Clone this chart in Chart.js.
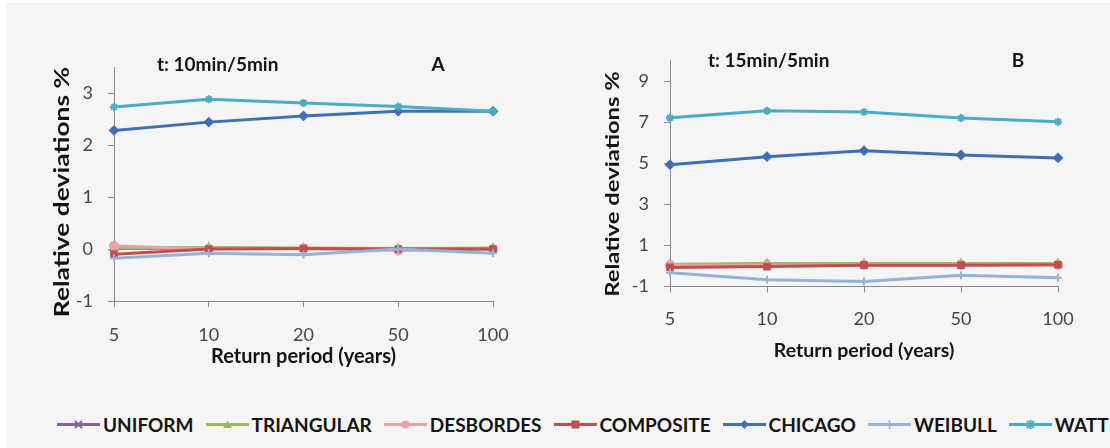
<!DOCTYPE html>
<html>
<head>
<meta charset="utf-8">
<script src="https://cdn.jsdelivr.net/npm/chart.js@4/dist/chart.umd.min.js"></script>
<style>
  html, body { margin: 0; padding: 0; background: #ffffff; }
  #page { position: absolute; left: 6px; top: 3px; width: 1104px; height: 445px; background: #f5f5f5; overflow: hidden; }
  .box { position: absolute; top: 0; height: 390px; }
  #boxA { left: -6px; width: 550px; }
  #boxB { left: 549px; width: 555px; }
  #legend { position: absolute; left: 51px; top: 409px; white-space: nowrap; font-family: Lato, sans-serif; font-weight: bold; font-size: 19px; color: #141414; }
  #legend .item { display: inline-flex; align-items: center; margin-right: 12px; }
  #legend svg { margin-right: 3px; }
</style>
</head>
<body>
<div id="page">
  <div class="box" id="boxA"><canvas id="chartA"></canvas></div>
  <div class="box" id="boxB"><canvas id="chartB"></canvas></div>
  <div id="legend"></div>
</div>
<script>
// return periods (years)
const categories = ['5', '10', '20', '50', '100'];

const seriesNames = ['UNIFORM', 'TRIANGULAR', 'DESBORDES', 'COMPOSITE', 'CHICAGO', 'WEIBULL', 'WATT'];
const seriesColors = ['#8064a2', '#9bbb59', '#e6a3a1', '#c0504d', '#3f6fb5', '#95b3d7', '#4bacc6'];
const seriesMarkers = ['crossRot', 'triangle', 'circle', 'rect', 'rectRot', 'cross', 'star'];

// panel A: t 10min/5min
const uniformA    = [0.01, 0.02, 0.01, 0.00, 0.01];
const triangularA = [0.02, 0.03, 0.02, 0.01, 0.02];
const desbordesA  = [0.06, 0.00, 0.01, -0.03, -0.01];
const compositeA  = [-0.10, 0.00, 0.01, 0.00, 0.00];
const chicagoA    = [2.28, 2.44, 2.56, 2.65, 2.65];
const weibullA    = [-0.18, -0.08, -0.11, 0.00, -0.08];
const wattA       = [2.73, 2.88, 2.81, 2.74, 2.65];

// panel B: t 15min/5min
const uniformB    = [0.05, 0.10, 0.10, 0.10, 0.10];
const triangularB = [0.08, 0.12, 0.12, 0.12, 0.12];
const desbordesB  = [0.05, 0.02, 0.05, 0.05, 0.05];
const compositeB  = [-0.07, -0.03, 0.04, 0.04, 0.06];
const chicagoB    = [4.93, 5.32, 5.61, 5.40, 5.26];
const weibullB    = [-0.33, -0.67, -0.76, -0.45, -0.57];
const wattB       = [7.21, 7.55, 7.49, 7.20, 7.02];

const yTicksA = [-1, 0, 1, 2, 3];
const yTicksB = [-1, 1, 3, 5, 7, 9];

const FONT = 'Lato, sans-serif';

// draws the "t: ..." label, the panel letter and the (stretched) y title
const panelLabels = {
  id: 'panelLabels',
  afterDraw(chart, args, opts) {
    const c = chart.ctx;
    c.save();
    c.fillStyle = '#141414';
    c.font = 'bold 19px ' + FONT;
    c.textBaseline = 'middle';
    opts.items.forEach(function (it) {
      c.textAlign = it.align;
      c.fillText(it.text, it.x, it.y);
    });
    const yt = opts.yTitle;
    c.translate(yt.x, yt.y);
    c.rotate(-Math.PI / 2);
    c.scale(yt.stretch, 1);
    c.font = 'bold ' + yt.size + 'px ' + FONT;
    c.textAlign = 'center';
    c.fillText(yt.text, 0, 0);
    c.restore();
  }
};

function makeDatasets(values) {
  return values.map(function (v, i) {
    return {
      label: seriesNames[i],
      data: v,
      borderColor: seriesColors[i],
      backgroundColor: seriesColors[i],
      pointStyle: seriesMarkers[i],
      pointRadius: 4,
      pointBorderWidth: 2,
      borderWidth: 3,
      tension: 0,
      fill: false,
      order: values.length - i
    };
  });
}

function makeChart(id, values, yMin, yMax, yTicks, opt) {
  return new Chart(document.getElementById(id), {
    type: 'line',
    data: { labels: categories, datasets: makeDatasets(values) },
    options: {
      responsive: true,
      maintainAspectRatio: false,
      animation: false,
      layout: { padding: opt.padding },
      plugins: {
        legend: { display: false },
        tooltip: { enabled: false },
        panelLabels: { items: opt.labels, yTitle: opt.yTitle }
      },
      scales: {
        x: {
          offset: false,
          grid: { drawOnChartArea: false, drawTicks: true, tickLength: 6, color: '#8a8a8a' },
          border: { display: true, color: '#8a8a8a', width: 1 },
          ticks: { color: '#454545', font: { family: FONT, size: 18 }, padding: opt.xTickPad, maxRotation: 0 },
          title: { display: true, text: 'Return period (years)', color: '#141414', font: { family: FONT, size: opt.xTitleSize, weight: 'bold' }, padding: 0 },
          afterFit: function (s) { s.height = opt.xHeight; }
        },
        y: {
          min: yMin,
          max: yMax,
          afterBuildTicks: function (s) { s.ticks = yTicks.map(function (v) { return { value: v }; }); },
          grid: { drawOnChartArea: false, drawTicks: true, tickLength: 6, color: '#8a8a8a' },
          border: { display: true, color: '#8a8a8a', width: 1 },
          ticks: { color: '#454545', font: { family: FONT, size: 18 }, padding: opt.tickPad },
          title: { display: false },
          afterFit: function (s) { s.width = opt.yWidth; }
        }
      }
    },
    plugins: [panelLabels]
  });
}

makeChart('chartA',
  [uniformA, triangularA, desbordesA, compositeA, chicagoA, weibullA, wattA],
  -1, 3.5, yTicksA, {
    padding: { left: 50, right: 57, top: 64, bottom: 24 },
    yWidth: 64, xHeight: 68, tickPad: 15, xTickPad: 17, xTitleSize: 20,
    yTitle: { text: 'Relative deviations %', x: 63, y: 189, size: 20, stretch: 1.32 },
    labels: [
      { text: 't: 10min/5min', x: 157, y: 62, align: 'left' },
      { text: 'A', x: 438, y: 62, align: 'center' }
    ]
  });

makeChart('chartB',
  [uniformB, triangularB, desbordesB, compositeB, chicagoB, weibullB, wattB],
  -1, 10, yTicksB, {
    padding: { left: 47, right: 52, top: 57.5, bottom: 31 },
    yWidth: 68, xHeight: 75.5, tickPad: 15, xTickPad: 15.5, xTitleSize: 19.5,
    yTitle: { text: 'Relative deviations %', x: 58, y: 181, size: 19.5, stretch: 1.22 },
    labels: [
      { text: 't: 15min/5min', x: 153, y: 58, align: 'left' },
      { text: 'B', x: 463, y: 58, align: 'center' }
    ]
  });

// legend: line with marker, then name
const legend = document.getElementById('legend');
seriesNames.forEach(function (name, i) {
  const col = seriesColors[i];
  let mk = '';
  const m = seriesMarkers[i];
  if (m === 'crossRot') mk = '<path d="M18 3 L25 10 M25 3 L18 10" stroke="' + col + '" stroke-width="2"/>';
  if (m === 'triangle') mk = '<path d="M21.5 2.5 L26 10 L17 10 Z" fill="' + col + '"/>';
  if (m === 'circle') mk = '<circle cx="21.5" cy="6.5" r="4" fill="' + col + '"/>';
  if (m === 'rect') mk = '<rect x="17.5" y="2.5" width="8" height="8" fill="' + col + '"/>';
  if (m === 'rectRot') mk = '<path d="M21.5 2 L26 6.5 L21.5 11 L17 6.5 Z" fill="' + col + '"/>';
  if (m === 'cross') mk = '<path d="M21.5 2 L21.5 11" stroke="' + col + '" stroke-width="1.5"/>';
  if (m === 'star') mk = '<path d="M18 3 L25 10 M25 3 L18 10 M21.5 2 L21.5 11" stroke="' + col + '" stroke-width="2"/>';
  legend.innerHTML += '<span class="item"><svg width="43" height="13"><line x1="0" y1="6.5" x2="43" y2="6.5" stroke="' + col + '" stroke-width="3"/>' + mk + '</svg>' + name + '</span>';
});
</script>
</body>
</html>
